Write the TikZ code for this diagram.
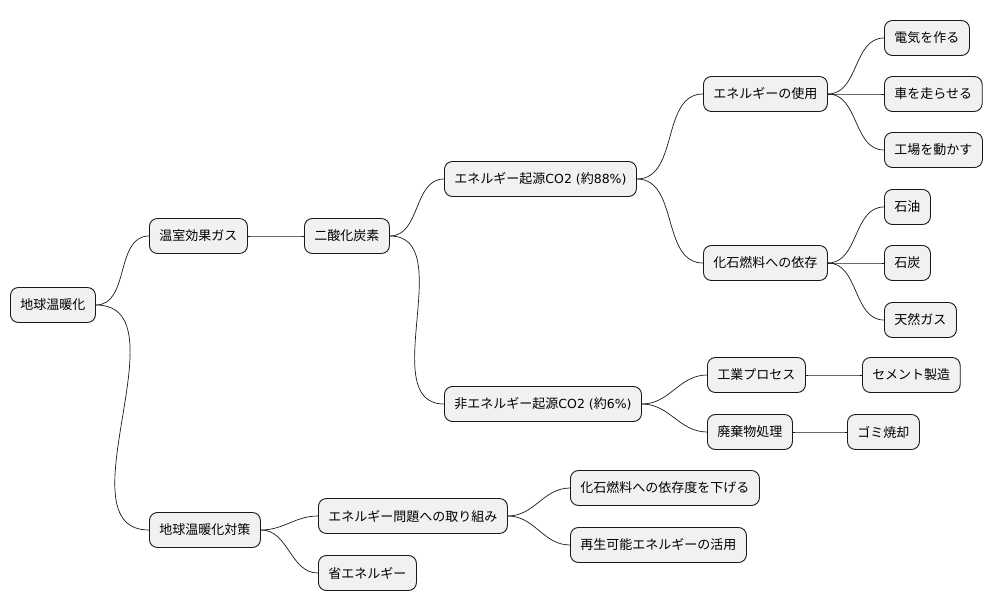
\documentclass[tikz,border=0pt]{standalone}
\usepackage{fontspec}
\setmainfont{Noto Sans CJK JP}
\newfontfamily\lat{DejaVu Sans}
\begin{document}
\begin{tikzpicture}[x=1pt,y=-1pt,
  n/.style={draw=black!90,fill={rgb,255:red,241;green,241;blue,241},rounded corners=8pt,line width=0.9pt,
    minimum height=35pt,inner xsep=10pt,anchor=west,font=\fontsize{13}{15}\selectfont},
  c/.style={line width=0.7pt,black!90}]
\useasboundingbox (0,0) rectangle (999,612);
\node[n] (a) at (10,305) {地球温暖化};
\node[n] (b) at (149,236) {温室効果ガス};
\node[n] (c) at (304,236) {二酸化炭素};
\node[n] (d) at (444,179) {エネルギー起源{\lat\fontsize{12.5}{15}\selectfont CO2 (}約{\lat\fontsize{12.5}{15}\selectfont 88\%)}};
\node[n] (e) at (703,94) {エネルギーの使用};
\node[n] (e1) at (884,38) {電気を作る};
\node[n] (e2) at (884,94) {車を走らせる};
\node[n] (e3) at (884,150) {工場を動かす};
\node[n] (f) at (703,263) {化石燃料への依存};
\node[n] (f1) at (884,207) {石油};
\node[n] (f2) at (884,263) {石炭};
\node[n] (f3) at (884,320) {天然ガス};
\node[n] (g) at (444,404) {非エネルギー起源{\lat\fontsize{12.5}{15}\selectfont CO2 (}約{\lat\fontsize{12.5}{15}\selectfont 6\%)}};
\node[n] (g1) at (707,375) {工業プロセス};
\node[n] (g1a) at (862,375) {セメント製造};
\node[n] (g2) at (707,432) {廃棄物処理};
\node[n] (g2a) at (847,432) {ゴミ焼却};
\node[n] (h) at (149,530) {地球温暖化対策};
\node[n] (i) at (318,516) {エネルギー問題への取り組み};
\node[n] (i1) at (570,488) {化石燃料への依存度を下げる};
\node[n] (i2) at (570,545) {再生可能エネルギーの活用};
\node[n] (j) at (318,573) {省エネルギー};
\foreach \p/\q in {a/b,a/h,b/c,c/d,c/g,d/e,d/f,e/e1,e/e2,e/e3,f/f1,f/f2,f/f3,g/g1,g/g2,g1/g1a,g2/g2a,h/i,h/j,i/i1,i/i2}
  \draw[c] (\p.east) to[out=0,in=180] (\q.west);
\end{tikzpicture}
\end{document}
